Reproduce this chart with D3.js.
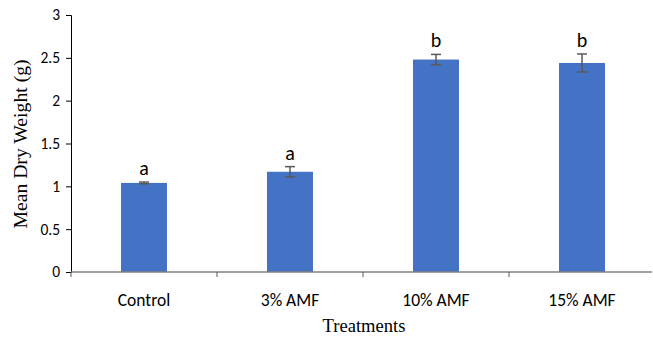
<!DOCTYPE html>
<html>
<head>
<meta charset="utf-8">
<script src="https://cdn.jsdelivr.net/npm/d3@7"></script>
<style>
  body { margin: 0; background: #fff; }
  svg { display: block; }
</style>
</head>
<body>
<svg id="chart"></svg>
<script>
var categories = ["Control", "3% AMF", "10% AMF", "15% AMF"];
var means = [1.04, 1.17, 2.48, 2.44];
var errors = [0.01, 0.06, 0.06, 0.105];
var letters = ["a", "a", "b", "b"];
var yTicks = [0, 0.5, 1, 1.5, 2, 2.5, 3];

var width = 653, height = 337;
var plotLeft = 71, plotRight = 655, plotTop = 15, plotBottom = 272;
var barColor = "#4472C4";
var sansFont = "Carlito, Lato, sans-serif";
var serifFont = "'Liberation Serif', 'Times New Roman', serif";

var svg = d3.select("#chart").attr("width", width).attr("height", height);

var y = d3.scaleLinear().domain([0, 3]).range([plotBottom, plotTop]);
var xBand = d3.scaleBand().domain(categories).range([plotLeft, plotRight]).paddingInner(0.685).paddingOuter(0.3425);
var xSlot = d3.scaleBand().domain(categories).range([plotLeft, plotRight]).padding(0);

// y axis
var yAxis = d3.axisLeft(y).tickValues(yTicks).tickSize(5).tickPadding(6).tickFormat(d3.format("~g"));
var gy = svg.append("g").attr("transform", "translate(" + plotLeft + ",0)").call(yAxis);
gy.select(".domain").attr("stroke", "#000");
gy.selectAll(".tick line").attr("stroke", "#000");
gy.selectAll("text").attr("font-family", sansFont).attr("font-size", 15.5).attr("fill", "#000");

// bars
svg.selectAll("rect.bar").data(categories).enter().append("rect")
  .attr("class", "bar")
  .attr("x", function(d) { return xBand(d); })
  .attr("width", xBand.bandwidth())
  .attr("y", function(d, i) { return y(means[i]); })
  .attr("height", function(d, i) { return plotBottom - y(means[i]); })
  .attr("fill", barColor);

// error bars
var eb = svg.selectAll("g.err").data(categories).enter().append("g").attr("class", "err");
eb.append("line")
  .attr("x1", function(d) { return xBand(d) + xBand.bandwidth() / 2; })
  .attr("x2", function(d) { return xBand(d) + xBand.bandwidth() / 2; })
  .attr("y1", function(d, i) { return y(means[i] + errors[i]); })
  .attr("y2", function(d, i) { return y(means[i] - errors[i]); });
[1, -1].forEach(function(s) {
  eb.append("line")
    .attr("x1", function(d) { return xBand(d) + xBand.bandwidth() / 2 - 5; })
    .attr("x2", function(d) { return xBand(d) + xBand.bandwidth() / 2 + 5; })
    .attr("y1", function(d, i) { return y(means[i] + s * errors[i]); })
    .attr("y2", function(d, i) { return y(means[i] + s * errors[i]); });
});
eb.selectAll("line").attr("stroke", "#595959").attr("stroke-width", 1.5);

// letters
svg.selectAll("text.letter").data(categories).enter().append("text")
  .attr("class", "letter")
  .attr("x", function(d) { return xBand(d) + xBand.bandwidth() / 2; })
  .attr("y", function(d, i) { return y(means[i] + errors[i]) - 7; })
  .attr("text-anchor", "middle")
  .attr("font-family", sansFont)
  .attr("font-size", 20)
  .text(function(d, i) { return letters[i]; });

// x axis
svg.append("line")
  .attr("x1", plotLeft).attr("x2", 652)
  .attr("y1", plotBottom).attr("y2", plotBottom)
  .attr("stroke", "#808080").attr("stroke-width", 1.5);
svg.selectAll("line.xtick").data(categories).enter().append("line")
  .attr("class", "xtick")
  .attr("x1", function(d) { return xSlot(d); })
  .attr("x2", function(d) { return xSlot(d); })
  .attr("y1", plotBottom).attr("y2", plotBottom + 5)
  .attr("stroke", "#595959");
svg.selectAll("text.xlab").data(categories).enter().append("text")
  .attr("class", "xlab")
  .attr("x", function(d) { return xBand(d) + xBand.bandwidth() / 2; })
  .attr("y", 306)
  .attr("text-anchor", "middle")
  .attr("font-family", sansFont)
  .attr("font-size", 17.5)
  .text(function(d) { return d; });

// axis titles
svg.append("text")
  .attr("x", 364).attr("y", 332)
  .attr("text-anchor", "middle")
  .attr("font-family", serifFont)
  .attr("font-size", 18.6)
  .text("Treatments");
svg.append("text")
  .attr("transform", "translate(27,144) rotate(-90)")
  .attr("text-anchor", "middle")
  .attr("font-family", serifFont)
  .attr("font-size", 19.7)
  .text("Mean Dry Weight (g)");
</script>
</body>
</html>
